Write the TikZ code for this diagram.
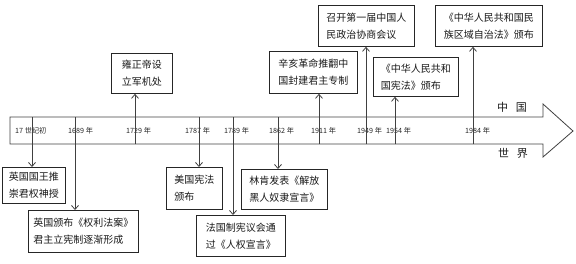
\documentclass[tikz,border=0pt]{standalone}
\usepackage{fontspec}
\setmainfont{Noto Sans CJK SC}
\usetikzlibrary{arrows.meta}
\begin{document}
\begin{tikzpicture}[x=1pt,y=-1pt,
  box/.style={draw=black!85, line width=0.8pt, align=left, inner sep=0pt, anchor=north west,
    font=\fontsize{10}{17}\selectfont, text=black!90},
  year/.style={anchor=west, inner sep=0pt, font=\fontsize{7.2}{8}\selectfont, text=black!85},
  tickline/.style={draw=black!75, line width=0.8pt},
  conn/.style={draw=black!75, line width=0.8pt, -{Straight Barb[length=4pt,width=7pt]}},
  band/.style={draw=black!75, line width=0.8pt, line join=miter},
  side/.style={inner sep=0pt, font=\fontsize{11}{12}\selectfont, text=black!90}]
\useasboundingbox (0,0) rectangle (576,263);
% big arrow band
\draw[band] (10,117) -- (543,117) -- (543,104) -- (573,131) -- (543,157) -- (543,144) -- (10,144) -- cycle;
\node[side] (zg) at (512,107) {中\hspace{0.7em}国};
\node[side] (sj) at (513,153) {世\hspace{0.7em}界};
% ticks
\foreach \n/\x in {ca/32, cb/75, cc/135, cd/199, ce/233, cf/278, cg/319, ch/366, ci/395, cj/473} {
  \coordinate (\n t) at (\x,117);
  \coordinate (\n b) at (\x,144);
  \draw[tickline] (\n t) -- (\n b);
}
% year labels
\node[year] (la) at (15,131) {17 世纪初};
\node[year] (lb) at (68,131) {1689 年};
\node[year] (lc) at (126,131) {1729 年};
\node[year] (ld) at (185,131) {1787 年};
\node[year] (le) at (224,131) {1789 年};
\node[year] (lf) at (269,131) {1862 年};
\node[year] (lg) at (311,131) {1911 年};
\node[year] (lh) at (357,131) {1949 年};
\node[year] (li) at (386,131) {1954 年};
\node[year] (lj) at (465,131) {1984 年};
% top boxes
\node[box, minimum width=61pt, minimum height=40pt] (yz) at (111,53) {雍正帝设\\立军机处};
\node[box, minimum width=88pt, minimum height=42pt] (xh) at (269,51) {辛亥革命推翻中\\国封建君主专制};
\node[box, minimum width=96pt, minimum height=41pt] (zk) at (318,5) {召开第一届中国人\\民政治协商会议};
\node[box, minimum width=85pt, minimum height=39pt] (xf) at (373,57) {《中华人民共和\\国宪法》颁布};
\node[box, minimum width=107pt, minimum height=41pt] (mz) at (435,5) {《中华人民共和国民\\族区域自治法》颁布};
% bottom boxes
\node[box, minimum width=63pt, minimum height=36pt] (yw) at (2,167) {英国国王推\\崇君权神授};
\node[box, minimum width=110pt, minimum height=42pt] (ql) at (28,210) {英国颁布《权利法案》\\君主立宪制逐渐形成};
\node[box, minimum width=56pt, minimum height=42pt] (mg) at (166,167) {美国宪法\\颁布\hspace{2em}};
\node[box, minimum width=86pt, minimum height=40pt] (lk) at (241,169) {林肯发表《解放\\黑人奴隶宣言》};
\node[box, minimum width=89pt, minimum height=41pt] (fg) at (196,215) {法国制宪议会通\\过《人权宣言》};
% connectors
\draw[conn] (ccb) -- (ccb |- yz.south);
\draw[conn] (cgb) -- (cgb |- xh.south);
\draw[conn] (chb) -- (chb |- zk.south);
\draw[conn] (cib) -- (cib |- xf.south);
\draw[conn] (cjb) -- (cjb |- mz.south);
\draw[conn] (cat) -- (cat |- yw.north);
\draw[conn] (cbt) -- (cbt |- ql.north);
\draw[conn] (cdt) -- (cdt |- mg.north);
\draw[conn] (cet) -- (cet |- fg.north);
\draw[conn] (cft) -- (cft |- lk.north);
\end{tikzpicture}
\end{document}
